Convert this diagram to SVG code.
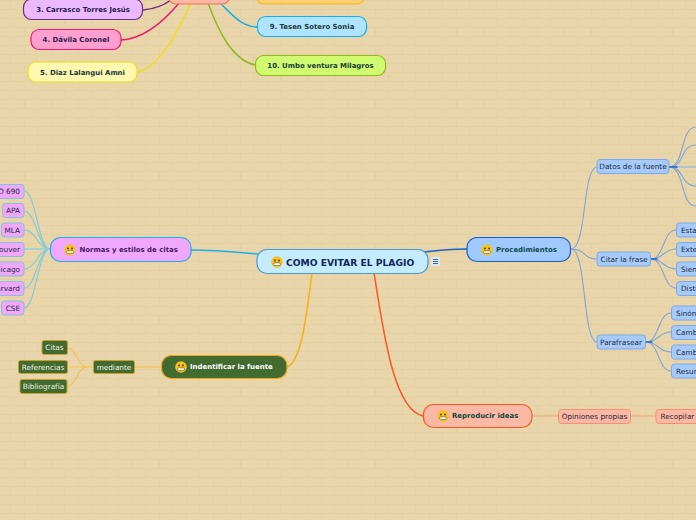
<svg xmlns="http://www.w3.org/2000/svg" width="696" height="520" viewBox="0 0 696 520">
<style>
text{font-family:"DejaVu Sans",Verdana,sans-serif;dominant-baseline:central}
.b{font-weight:bold;font-size:6.95px;text-anchor:middle}
.h{font-weight:bold;font-size:6.95px}
.s{font-size:7.3px;fill:#1e2a40}
.c{fill:none;stroke-linecap:round}
.blue{stroke:#7ea6d8;stroke-width:1.1}
.teal{stroke:#7fcbd8;stroke-width:1.1}
.org{stroke:#f8c050;stroke-width:1.1}
.sb{fill:#a6cbfb;stroke:#7fa8ea;stroke-width:1}
.sp{fill:#f0a8fc;stroke:#86bfe0;stroke-width:1}
.sg{fill:#426b30;stroke:#c9a030;stroke-width:1}
.sr{fill:#fbb8a4;stroke:#f59070;stroke-width:1}
.face{fill:#f6c21c}
.fd{fill:#4a3410}
.ft{fill:#fff}
</style>
<defs>
<pattern id="brick" width="54" height="18" patternUnits="userSpaceOnUse">
<rect width="54" height="18" fill="#e8d5aa"/>
<path d="M0 .5H54M0 9.500H54M10.500 0V9M37.500 0V9M24.500 9V18M51.500 9V18" fill="none" stroke="#e4d0a2" stroke-width="1"/>
</pattern>
<g id="emo"><circle r="5.800" class="face"/><circle cx="-2" cy="-1.500" r=".9" class="fd"/><circle cx="2" cy="-1.500" r=".9" class="fd"/><rect x="-3.500" y=".9" width="7" height="2.600" rx="1.200" class="ft" stroke="#4a3410" stroke-width=".5"/></g>
</defs>
<rect width="696" height="520" fill="url(#brick)"/>
<g id="connectors">
<path class="c" stroke="#6a3080" stroke-width="1.5" d="M143 10C155 9 163 6 171 0"/>
<path class="c" stroke="#f01a70" stroke-width="1.5" d="M121 40C145 39 165 20 180 2"/>
<path class="c" stroke="#f0dc20" stroke-width="1.5" d="M137 72C160 68 178 30 191 3"/>
<path class="c" stroke="#18aeea" stroke-width="1.5" d="M257 27C240 26 232 14 220 3"/>
<path class="c" stroke="#90b820" stroke-width="1.5" d="M255 65C232 60 218 30 208 3"/>
<path class="c" stroke="#1cb0e8" stroke-width="1.5" d="M191 250C220 250 235 252 258 254"/>
<path class="c" stroke="#1a62c8" stroke-width="1.5" d="M424 252C440 250 450 249 467 249"/>
<path class="c" stroke="#f8b018" stroke-width="1.5" d="M287 367C302 362 307 310 312 273"/>
<path class="c" stroke="#f85a28" stroke-width="1.5" d="M374 273C382 320 392 410 423 416"/>
<path class="c org" d="M161 367H134M93 367H87M87 367C78 367 76 348 68 348M87 367H67M87 367C78 367 76 386 67 386"/>
<path class="c teal" d="M50 249C38 249 36 191 24 191M50 249C38 249 36 211 24 211M50 249C38 249 36 230 24 230M50 249C38 249 36 269 24 269M50 249C38 249 36 288 24 288M50 249C38 249 36 308 24 308"/>
<path class="c" stroke="#8fd0dc" stroke-width="1.600" d="M50 249H24"/>
<path class="c blue" d="M571 249C587 249 582 168 597 167M571 249C587 249 582 259 597 259M571 249C587 249 582 341 597 342"/>
<path class="c blue" d="M669 167C685 167 680 127 696 127M669 167C685 167 680 145 696 145M669 167C685 167 680 186 696 186M669 167C685 167 680 206 696 206"/>
<path class="c" stroke="#a3bcd8" stroke-width="1.600" d="M669 167H696"/>
<path class="c blue" d="M651 259C664 259 663 230 676 230M651 259C664 259 663 249 676 249M651 259C664 259 663 269 676 269M651 259C664 259 663 288 676 288"/>
<path class="c blue" d="M646 342C659 342 658 313 671 313M646 342C659 342 658 332 671 332M646 342C659 342 658 352 671 352M646 342C659 342 658 371 671 371"/>
<path class="c" stroke="#1a62c8" stroke-width="1.400" d="M669 167H677M651 259H657M646 342H652"/>
<path class="c" stroke="#f8a080" stroke-width="1.100" d="M532 416H559M631 416H656"/>
</g>
<g id="n-top"><rect x="168" y="-12" width="62" height="16" rx="8" fill="#fbb8a4" stroke="#f07050" stroke-width="1.200"/></g>
<g id="n-8"><rect x="256" y="-14" width="109" height="18" rx="8" fill="#ffd070" stroke="#f8b820" stroke-width="1.200"/></g>
<g id="n-3"><rect x="23.500" y="-1" width="119" height="20.500" rx="8" fill="#ebb9ff" stroke="#6a3080" stroke-width="1.200"/><text class="b" x="83" y="10" fill="#2a1a4a">3. Carrasco Torres Jesús</text></g>
<g id="n-4"><rect x="31" y="29.500" width="90" height="20" rx="8" fill="#ff9fd0" stroke="#f01a70" stroke-width="1.200"/><text class="b" x="76" y="40" fill="#2a1a4a">4. Dávila Coronel</text></g>
<g id="n-5"><rect x="28" y="62" width="109" height="20" rx="8" fill="#fff8b0" stroke="#f0dc20" stroke-width="1.200"/><text class="b" x="82.500" y="73" fill="#1a3a3a">5. Diaz Lalangui Amni</text></g>
<g id="n-9"><rect x="257.500" y="16.500" width="109" height="20" rx="8" fill="#aee4ff" stroke="#18aeea" stroke-width="1.200"/><text class="b" x="312" y="27" fill="#1a3a3a">9. Tesen Sotero Sonia</text></g>
<g id="n-10"><rect x="255.500" y="55.500" width="130" height="20" rx="8" fill="#d0fb70" stroke="#90b820" stroke-width="1.200"/><text class="b" x="320.500" y="66" fill="#1a3a3a">10. Umbo ventura Milagros</text></g>
<g id="n-center"><rect x="257" y="249.500" width="171" height="24" rx="10" fill="#c5ebff" stroke="#4a9bd0" stroke-width="1.200"/><use href="#emo" x="277" y="262"/><text x="286" y="262" font-size="9.200" font-weight="bold" fill="#10265a">COMO EVITAR EL PLAGIO</text></g>
<g id="n-menu"><rect x="431" y="257" width="9" height="9" fill="#dbe8ee"/><path d="M433 259.500H438M433 261.500H438M433 263.500H438" stroke="#3a6a9a" stroke-width="1"/></g>
<g id="n-proc"><rect x="467" y="237.500" width="103.500" height="24" rx="10" fill="#9fc9ff" stroke="#1a62c8" stroke-width="1.200"/><use href="#emo" x="487" y="250"/><text class="h" x="496" y="250" fill="#0d4a4a">Procedimientos</text></g>
<g id="n-normas"><rect x="50.500" y="237.500" width="140.500" height="24" rx="10" fill="#f0a8ff" stroke="#1cb0e8" stroke-width="1.200"/><use href="#emo" x="70" y="250"/><text class="h" x="79.500" y="250" fill="#4a1a5e">Normas y estilos de citas</text></g>
<g id="n-ident"><rect x="161.500" y="355.500" width="125.500" height="23" rx="10" fill="#426b30" stroke="#f0a818" stroke-width="1.200"/><use href="#emo" x="181" y="367"/><text class="h" x="190" y="367" fill="#fff">Indentificar la fuente</text></g>
<g id="n-repro"><rect x="423.500" y="404.500" width="108.500" height="23" rx="10" fill="#fbb8a4" stroke="#f85a28" stroke-width="1.200"/><use href="#emo" x="443" y="416"/><text class="h" x="452" y="416" fill="#0d4a3a">Reproducir ideas</text></g>
<g id="n-iso"><rect x="-6" y="184.500" width="30" height="14" rx="3" class="sp"/><text class="s" x="20" y="191.500" text-anchor="end">ISO 690</text></g>
<g id="n-apa"><rect x="2.500" y="203.500" width="21.500" height="14" rx="3" class="sp"/><text class="s" x="20" y="210.500" text-anchor="end">APA</text></g>
<g id="n-mla"><rect x="1.500" y="223" width="22.500" height="14" rx="3" class="sp"/><text class="s" x="20" y="230" text-anchor="end">MLA</text></g>
<g id="n-van"><rect x="-30" y="242.500" width="54" height="14" rx="3" class="sp"/><text class="s" x="20" y="249.500" text-anchor="end">Vancouver</text></g>
<g id="n-chi"><rect x="-20" y="262" width="44" height="14" rx="3" class="sp"/><text class="s" x="20" y="269" text-anchor="end">Chicago</text></g>
<g id="n-har"><rect x="-20" y="281.500" width="44" height="14" rx="3" class="sp"/><text class="s" x="20" y="288.500" text-anchor="end">Harvard</text></g>
<g id="n-cse"><rect x="1.500" y="301" width="22.500" height="14" rx="3" class="sp"/><text class="s" x="20" y="308" text-anchor="end">CSE</text></g>
<g id="n-med"><rect x="93.500" y="360.500" width="41" height="13" rx="2" class="sg"/><text class="s" x="114" y="367" text-anchor="middle" style="fill:#f0f0e0">mediante</text></g>
<g id="n-citas"><rect x="42" y="340.500" width="25.500" height="14" rx="2" class="sg"/><text class="s" x="54.500" y="347.500" text-anchor="middle" style="fill:#f0f0e0">Citas</text></g>
<g id="n-ref"><rect x="18.500" y="360.500" width="49" height="13" rx="2" class="sg"/><text class="s" x="43" y="367" text-anchor="middle" style="fill:#f0f0e0">Referencias</text></g>
<g id="n-bib"><rect x="20" y="379.500" width="47" height="14" rx="2" class="sg"/><text class="s" x="43.500" y="386.500" text-anchor="middle" style="fill:#f0f0e0">Bibliografía</text></g>
<g id="n-datos"><rect x="597" y="159.500" width="72" height="14" rx="3" class="sb"/><text class="s" x="633" y="166.500" text-anchor="middle">Datos de la fuente</text></g>
<g id="n-citar"><rect x="597" y="252" width="53.500" height="14" rx="3" class="sb"/><text class="s" x="624" y="259" text-anchor="middle">Citar la frase</text></g>
<g id="n-para"><rect x="597" y="335" width="48.500" height="14" rx="3" class="sb"/><text class="s" x="621" y="342" text-anchor="middle">Parafrasear</text></g>
<g id="n-a1"><rect x="676.500" y="223" width="30" height="14" rx="3" class="sb"/><text class="s" x="681" y="230">Esta</text></g>
<g id="n-a2"><rect x="676.500" y="242.500" width="30" height="14" rx="3" class="sb"/><text class="s" x="681" y="249.500">Exte</text></g>
<g id="n-a3"><rect x="676.500" y="262" width="30" height="14" rx="3" class="sb"/><text class="s" x="681" y="269">Sien</text></g>
<g id="n-a4"><rect x="676.500" y="281.500" width="30" height="14" rx="3" class="sb"/><text class="s" x="681" y="288.500">Disti</text></g>
<g id="n-b1"><rect x="671.500" y="306" width="35" height="14" rx="3" class="sb"/><text class="s" x="676" y="313">Sinón</text></g>
<g id="n-b2"><rect x="671.500" y="325.500" width="35" height="14" rx="3" class="sb"/><text class="s" x="676" y="332.500">Camb</text></g>
<g id="n-b3"><rect x="671.500" y="345" width="35" height="14" rx="3" class="sb"/><text class="s" x="676" y="352">Camb</text></g>
<g id="n-b4"><rect x="671.500" y="364" width="35" height="14" rx="3" class="sb"/><text class="s" x="676" y="371">Resum</text></g>
<g id="n-op"><rect x="558.500" y="409.500" width="72" height="14" rx="3" class="sr"/><text class="s" x="594.500" y="416.500" text-anchor="middle">Opiniones propias</text></g>
<g id="n-rec"><rect x="656" y="409.500" width="60" height="14" rx="3" class="sr"/><text class="s" x="660.500" y="416.500">Recopilar p</text></g>
</svg>
